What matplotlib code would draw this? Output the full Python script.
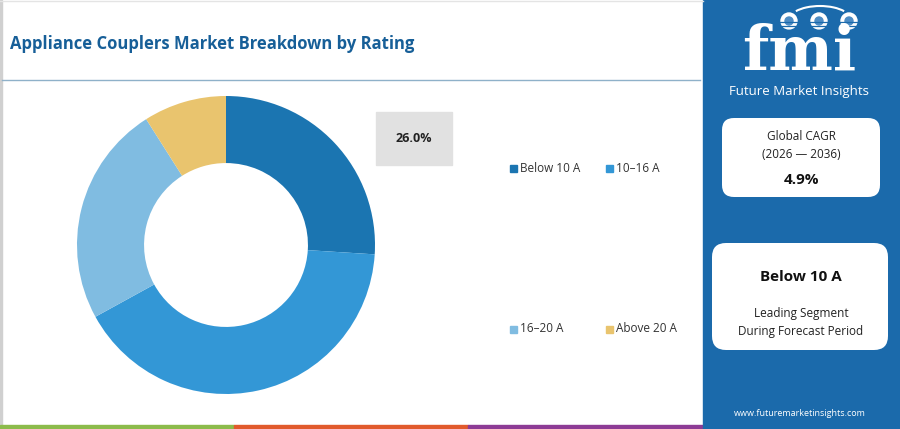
import matplotlib.pyplot as plt
from matplotlib.patches import Rectangle, FancyBboxPatch, Arc
import numpy as np

# dados
segmentos = ['Below 10 A', '10–16 A', '16–20 A', 'Above 20 A']
valores = [26.0, 41.0, 24.0, 9.0]
cores = ['#1b75b1', '#3397d6', '#80bce1', '#e9c46e']

titulo = 'Appliance Couplers Market Breakdown by Rating'
cagr_periodo = '(2026 — 2036)'
cagr_valor = '4.9%'
segmento_lider = 'Below 10 A'

plt.rcParams['font.family'] = ['Open Sans', 'DejaVu Sans']

fig = plt.figure(figsize=(9, 4.29), dpi=100)
fundo = fig.add_axes([0, 0, 1, 1])
fundo.set_xlim(0, 900)
fundo.set_ylim(429, 0)
fundo.axis('off')

# painel branco e borda
fundo.add_patch(Rectangle((0, 0), 2, 429, color='#d0d0d0'))
fundo.plot([0, 703], [0.5, 0.5], color='#e4e4e4', linewidth=1)
fundo.text(10, 44, titulo, fontsize=12, fontweight='bold', color='#175f98', va='center')
fundo.plot([2, 700], [80, 80], color='#8fb1c9', linewidth=1)

# barra colorida embaixo
fundo.add_patch(Rectangle((0, 425), 234, 4, color='#8cbb4b'))
fundo.add_patch(Rectangle((234, 425), 234, 4, color='#e15a2c'))
fundo.add_patch(Rectangle((468, 425), 235, 4, color='#8d3b95'))

# painel azul da direita
fundo.add_patch(Rectangle((703, 0), 197, 429, color='#1b6aab'))

# logo
fundo.text(799, 70, 'fmi', fontsize=44, fontweight='bold', color='white', ha='center', va='baseline',
           family=['DejaVu Serif'])
for y in np.arange(22, 74, 4):
    fundo.plot([728, 872], [y, y], color='#1b6aab', linewidth=0.9)
fundo.add_patch(Arc((820, 20), 62, 28, theta1=200, theta2=340, color='white', linewidth=1.5))
for cx in [789, 819, 849]:
    fundo.add_patch(plt.Circle((cx, 21), 8, color='white'))
    fundo.add_patch(plt.Circle((cx, 21), 4, color='#4d8cc4'))
fundo.text(799, 91, 'Future Market Insights', fontsize=9.5, color='white', ha='center', va='center')

# caixa CAGR
fundo.add_patch(FancyBboxPatch((722, 118), 158, 79, boxstyle='round,pad=0,rounding_size=12',
                               facecolor='white', edgecolor='none'))
fundo.text(801, 137, 'Global CAGR', fontsize=8.5, color='#222222', ha='center', va='center')
fundo.text(801, 155, cagr_periodo, fontsize=8.5, color='#222222', ha='center', va='center')
fundo.text(801, 180, cagr_valor, fontsize=11, fontweight='bold', color='#111111', ha='center', va='center')

# caixa segmento líder
fundo.add_patch(FancyBboxPatch((712, 243), 176, 107, boxstyle='round,pad=0,rounding_size=14',
                               facecolor='white', edgecolor='none'))
fundo.text(801, 277, segmento_lider, fontsize=11, fontweight='bold', color='#111111', ha='center', va='center')
fundo.text(801, 314, 'Leading Segment', fontsize=8.5, color='#222222', ha='center', va='center')
fundo.text(801, 331, 'During Forecast Period', fontsize=8.5, color='#222222', ha='center', va='center')
fundo.text(800, 414, 'www.futuremarketinsights.com', fontsize=6.5, color='white', ha='center', va='center')

# rosca
eixo = fig.add_axes([76 / 900, (429 - 395) / 429, 300 / 900, 300 / 429])
eixo.pie(valores, colors=cores, startangle=90, counterclock=False, radius=149 / 150,
         wedgeprops=dict(width=0.45 * 149 / 150, edgecolor='none'))
eixo.set_xlim(-1, 1)
eixo.set_ylim(-1, 1)
eixo.set_aspect('equal')

# rótulo do primeiro segmento
fundo.add_patch(Rectangle((376, 112), 76, 53, color='#e1e1e1'))
fundo.text(414, 139, f'{valores[0]:.1f}%', fontsize=9, fontweight='bold', color='#222222', ha='center', va='center')

# legenda
pos_legenda = [(510, 168), (606, 168), (510, 329), (606, 329)]
for (x, y), nome, cor in zip(pos_legenda, segmentos, cores):
    fundo.add_patch(Rectangle((x, y - 3.5), 7, 7, color=cor))
    fundo.text(x + 10, y, nome, fontsize=8.5, color='#333333', va='center')

fig.savefig('out.png', dpi=100)
